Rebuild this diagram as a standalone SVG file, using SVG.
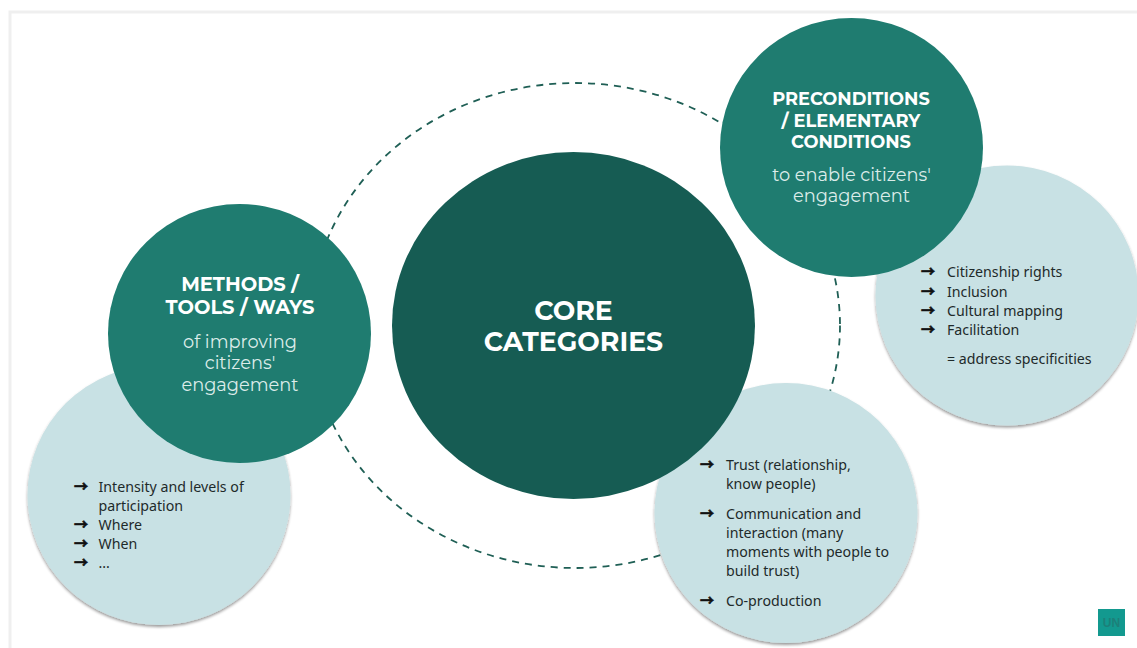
<svg xmlns="http://www.w3.org/2000/svg" width="1137" height="648" viewBox="0 0 1137 648">
<defs>
<filter id="sh" x="-10%" y="-10%" width="120%" height="120%"><feGaussianBlur in="SourceAlpha" stdDeviation="1.6"/><feOffset dx="0" dy="1.5"/><feComponentTransfer><feFuncA type="linear" slope="0.4"/></feComponentTransfer><feMerge><feMergeNode/><feMergeNode in="SourceGraphic"/></feMerge></filter>
</defs>
<style>
.light{fill:#c8e1e4;filter:url(#sh)}
.mid{fill:#1f7c70}
.dark{fill:#165c53}
.h{font-family:"Montserrat","Inter","Liberation Sans",sans-serif;font-weight:700;fill:#fff;text-anchor:middle}
.s{font-family:"Montserrat","Inter","Liberation Sans",sans-serif;font-weight:400;fill:#dcecea;text-anchor:middle;font-size:17.800px}
.t{font-family:"Noto Sans","Open Sans",sans-serif;fill:#1e2a2a;font-size:14.200px}
.a{font-family:"Noto Sans CJK SC",sans-serif;font-weight:700;fill:#111;stroke:#111;stroke-width:.7px;font-size:14px}
</style>
<rect x="0" y="0" width="1137" height="648" fill="#fff"/>
<path d="M10 648V12H1137" fill="none" stroke="#efefef" stroke-width="3"/>
<g id="connectors"><ellipse cx="575" cy="325.500" rx="265" ry="242.500" fill="none" stroke="#1f5f55" stroke-width="1.800" stroke-dasharray="7 6"/></g>
<g id="node-tools-detail"><ellipse class="light" cx="159" cy="495" rx="131.500" ry="130"/>
<text class="a" x="74" y="491">→</text><text class="t" x="98.500" y="492">Intensity and levels of</text><text class="t" x="98.500" y="511">participation</text>
<text class="a" x="74" y="529">→</text><text class="t" x="98.500" y="530">Where</text>
<text class="a" x="74" y="548">→</text><text class="t" x="98.500" y="549">When</text>
<text class="a" x="74" y="567">→</text><text class="t" x="98.500" y="568">...</text></g>
<g id="node-conditions-detail"><ellipse class="light" cx="1007" cy="295.500" rx="131.500" ry="130"/>
<text class="a" x="921" y="276">→</text><text class="t" x="947" y="277">Citizenship rights</text>
<text class="a" x="921" y="296">→</text><text class="t" x="947" y="297">Inclusion</text>
<text class="a" x="921" y="315">→</text><text class="t" x="947" y="316">Cultural mapping</text>
<text class="a" x="921" y="334">→</text><text class="t" x="947" y="335">Facilitation</text>
<text class="t" x="947" y="364">= address specificities</text></g>
<g id="node-core-detail"><ellipse class="light" cx="786" cy="513" rx="131.500" ry="130"/>
<text class="a" x="700" y="469">→</text><text class="t" x="726" y="470">Trust (relationship,</text><text class="t" x="726" y="489">know people)</text>
<text class="a" x="700" y="518">→</text><text class="t" x="726" y="519">Communication and</text><text class="t" x="726" y="538">interaction (many</text><text class="t" x="726" y="557">moments with people to</text><text class="t" x="726" y="576">build trust)</text>
<text class="a" x="700" y="605">→</text><text class="t" x="726" y="606">Co-production</text></g>
<g id="node-core"><ellipse class="dark" cx="573.500" cy="325.500" rx="181.500" ry="173.500"/>
<text class="h" x="573.500" y="319.500" font-size="26.700">CORE</text><text class="h" x="573.500" y="351" font-size="26.700">CATEGORIES</text></g>
<g id="node-tools"><ellipse class="mid" cx="239.500" cy="333.500" rx="131.500" ry="129.500"/>
<text class="h" x="240" y="291" font-size="19.500">METHODS /</text><text class="h" x="240" y="314" font-size="19.500">TOOLS / WAYS</text>
<text class="s" x="240" y="348">of improving</text><text class="s" x="240" y="369">citizens'</text><text class="s" x="240" y="391">engagement</text></g>
<g id="node-conditions"><ellipse class="mid" cx="851.500" cy="147.500" rx="131.500" ry="129.500"/>
<text class="h" x="851" y="105" font-size="17.800">PRECONDITIONS</text><text class="h" x="851" y="127" font-size="17.800">/ ELEMENTARY</text><text class="h" x="851" y="148" font-size="17.800">CONDITIONS</text>
<text class="s" x="851.500" y="181">to enable citizens'</text><text class="s" x="851.500" y="202">engagement</text></g>
<g id="badge"><rect x="1098" y="609" width="27" height="27" fill="#13998f"/><text x="1111.500" y="627" text-anchor="middle" font-family="Liberation Sans, sans-serif" font-size="12" font-weight="700" fill="#1d8079">UN</text></g>
</svg>
